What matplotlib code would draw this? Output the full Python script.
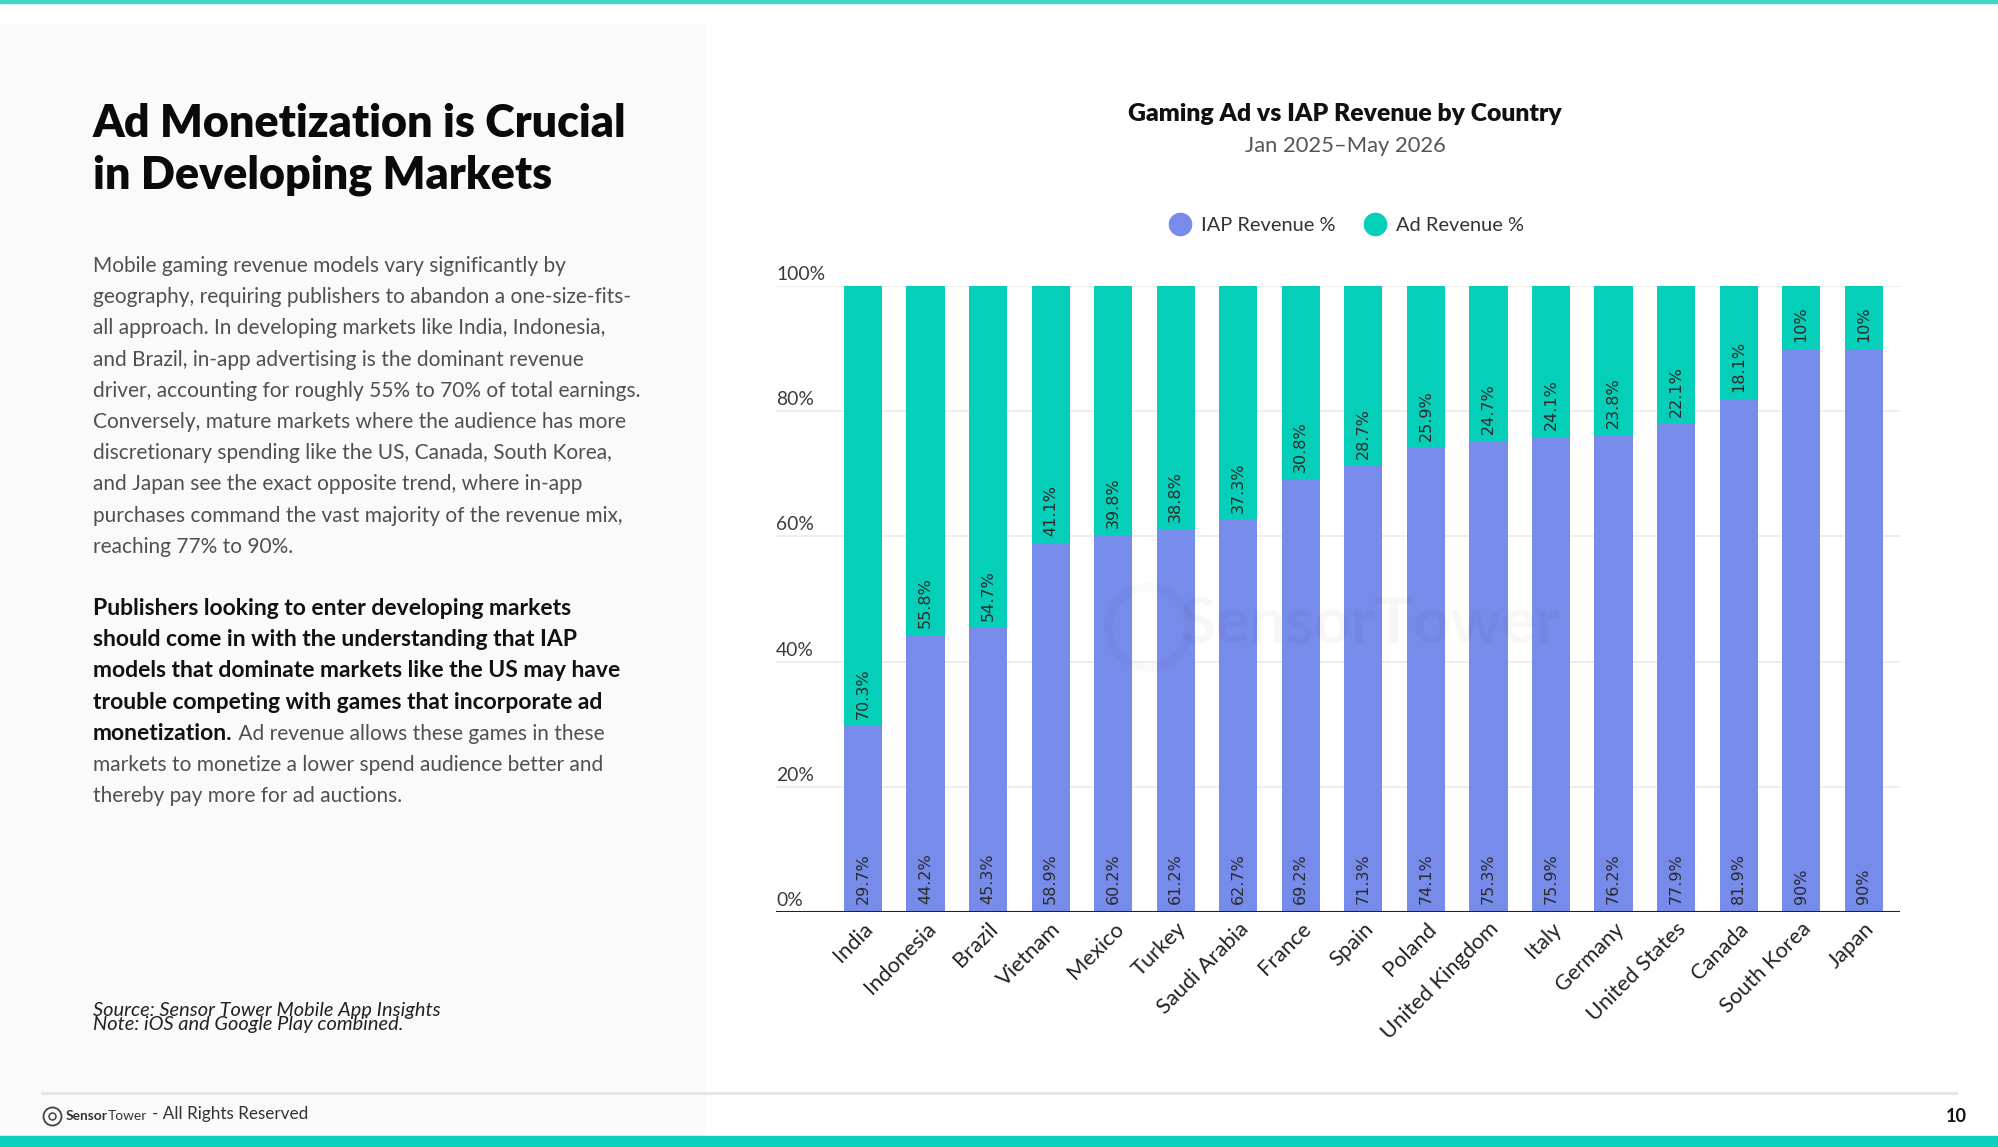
import matplotlib
matplotlib.use("Agg")
import matplotlib.pyplot as plt
from matplotlib.patches import Rectangle
from matplotlib.lines import Line2D
import matplotlib.transforms as mtransforms

plt.rcParams["font.family"] = ["Lato", "DejaVu Sans"]

# ---- data ----
countries = ["India", "Indonesia", "Brazil", "Vietnam", "Mexico", "Turkey",
             "Saudi Arabia", "France", "Spain", "Poland", "United Kingdom",
             "Italy", "Germany", "United States", "Canada", "South Korea", "Japan"]
iap_pct = [29.7, 44.2, 45.3, 58.9, 60.2, 61.2, 62.7, 69.2, 71.3, 74.1, 75.3,
           75.9, 76.2, 77.9, 81.9, 90, 90]
ad_pct = [70.3, 55.8, 54.7, 41.1, 39.8, 38.8, 37.3, 30.8, 28.7, 25.9, 24.7,
          24.1, 23.8, 22.1, 18.1, 10, 10]
y_ticks = [0, 20, 40, 60, 80, 100]

title_lines = ["Ad Monetization is Crucial", "in Developing Markets"]
body_lines = [
    "Mobile gaming revenue models vary significantly by",
    "geography, requiring publishers to abandon a one-size-fits-",
    "all approach. In developing markets like India, Indonesia,",
    "and Brazil, in-app advertising is the dominant revenue",
    "driver, accounting for roughly 55% to 70% of total earnings.",
    "Conversely, mature markets where the audience has more",
    "discretionary spending like the US, Canada, South Korea,",
    "and Japan see the exact opposite trend, where in-app",
    "purchases command the vast majority of the revenue mix,",
    "reaching 77% to 90%.",
]
bold_lines = [
    "Publishers looking to enter developing markets",
    "should come in with the understanding that IAP",
    "models that dominate markets like the US may have",
    "trouble competing with games that incorporate ad",
    "monetization.",
]
tail_lines = [
    " Ad revenue allows these games in these",
    "markets to monetize a lower spend audience better and",
    "thereby pay more for ad auctions.",
]

IAP_COLOR = "#778bea"
AD_COLOR = "#05cfb8"
TEAL = "#0bcfbc"
BODY = "#505050"

W, H = 1999, 1147
fig = plt.figure(figsize=(W / 100, H / 100), dpi=100)
fig.patch.set_facecolor("white")
renderer = fig.canvas.get_renderer()


def fx(px):
    return px / W


def fy(py):
    return 1 - py / H


def fit(s, target, **kw):
    t = fig.text(0, 0, s, fontsize=20, **kw)
    w = t.get_window_extent(renderer).width
    t.remove()
    return 20 * target / w


# page furniture
fig.add_artist(Rectangle((0, fy(1136)), fx(705), fy(24) - fy(1136),
                         transform=fig.transFigure, color="#fafafa", zorder=0))
fig.add_artist(Rectangle((0, fy(2.5)), 1, 2.5 / H, transform=fig.transFigure,
                         color="#3fd8c6", zorder=1))
fig.add_artist(Rectangle((0, 0), 1, 11 / H, transform=fig.transFigure,
                         color=TEAL, zorder=1))
fig.add_artist(Line2D([fx(42), fx(1956)], [fy(1093), fy(1093)],
                      transform=fig.transFigure, color="#e6e6e6", lw=2.2))

# left panel text
fs_title = fit(title_lines[0], 534, fontweight="heavy")
for k, line in enumerate(title_lines):
    fig.text(fx(93), fy(137 + 51 * k), line, fontsize=fs_title,
             fontweight="heavy", color="#0a0a0a", va="baseline")

fs_body = fit(body_lines[4], 547)
for k, line in enumerate(body_lines):
    fig.text(fx(93), fy(272 + 31.2 * k), line, fontsize=fs_body,
             color=BODY, va="baseline")

fs_bold = fit(bold_lines[2], 528, fontweight="bold")
for k, line in enumerate(bold_lines):
    t = fig.text(fx(93), fy(615 + 31.2 * k), line, fontsize=fs_bold,
                 fontweight="bold", color="#111111", va="baseline")
w_last = t.get_window_extent(renderer).width
for k, line in enumerate(tail_lines):
    x0 = 93 + w_last if k == 0 else 93
    fig.text(fx(x0), fy(615 + 31.2 * (k + 4)), line, fontsize=fs_body,
             color=BODY, va="baseline")

src = "Source: Sensor Tower Mobile App Insights"
note = "Note: iOS and Google Play combined."
fs_src = fit(src, 348, style="italic")
fig.text(fx(93), fy(1016), src, fontsize=fs_src, style="italic",
         color="#222222", va="baseline")
fig.text(fx(93), fy(1030), note, fontsize=fs_src, style="italic",
         color="#222222", va="baseline")

# footer
fig.add_artist(Line2D([fx(52)], [fy(1116)], marker="o", ms=13, mfc="none",
                      mec="#444444", mew=1.3, transform=fig.transFigure))
fig.add_artist(Line2D([fx(52)], [fy(1116)], marker="o", ms=5, mfc="none",
                      mec="#444444", mew=1.1, transform=fig.transFigure))
fs_foot = fit("- All Rights Reserved", 157)
tb = fig.text(fx(66), fy(1116), "Sensor", fontsize=fs_foot * 0.8,
              fontweight="bold", color="#333333", va="center")
wb = tb.get_window_extent(renderer).width
tb2 = fig.text(fx(66 + wb), fy(1116), "Tower", fontsize=fs_foot * 0.8,
               color="#333333", va="center")
wb2 = tb2.get_window_extent(renderer).width
fig.text(fx(66 + wb + wb2 + 5), fy(1114), "- All Rights Reserved",
         fontsize=fs_foot, color="#333333", va="center")
fig.text(fx(1967), fy(1116), "10", fontsize=13, fontweight="bold",
         color="#111111", ha="right", va="center")

# chart titles
fs_ct = fit("Gaming Ad vs IAP Revenue by Country", 435, fontweight="heavy")
fig.text(fx(1345), fy(121), "Gaming Ad vs IAP Revenue by Country",
         fontsize=fs_ct, fontweight="heavy", color="#111111",
         ha="center", va="baseline")
fs_sub = fit("Jan 2025\u2013May 2026", 201)
fig.text(fx(1345), fy(152), "Jan 2025\u2013May 2026", fontsize=fs_sub,
         color="#555555", ha="center", va="baseline")

# axes
ax_left, ax_right, ax_top, ax_bot = 776, 1900, 286, 912
ax = fig.add_axes([fx(ax_left), fy(ax_bot), fx(ax_right - ax_left),
                   (ax_bot - ax_top) / H])
ax.set_facecolor("none")
x = list(range(len(countries)))
ax.bar(x, iap_pct, width=0.61, color=IAP_COLOR, zorder=2,
       label="IAP Revenue %")
ax.bar(x, ad_pct, width=0.61, bottom=iap_pct, color=AD_COLOR, zorder=2,
       label="Ad Revenue %")
ax.set_xlim(-1.39, 16.58)
ax.set_ylim(0, 100)
ax.set_yticks(y_ticks)
ax.yaxis.grid(True, color="#ebebeb", lw=1.2, zorder=0)
ax.tick_params(axis="y", length=0, labelleft=False)
for s in ax.spines.values():
    s.set_visible(False)
ax.axhline(0, color="#222222", lw=2.2, zorder=4)

fs_y = fit("100%", 49)
trans_y = mtransforms.blended_transform_factory(ax.transAxes, ax.transData)
for v in y_ticks:
    ax.annotate(f"{v}%", xy=(0, v), xycoords=trans_y, xytext=(0, 4.3),
                textcoords="offset points", fontsize=fs_y,
                color="#3c3c3c", ha="left", va="baseline",
                annotation_clip=False)

fs_x = fit("United Kingdom", 157)
ax.set_xticks(x)
ax.set_xticklabels(countries, fontsize=fs_x, color="#222222")
ax.tick_params(axis="x", length=0, pad=5)
plt.setp(ax.get_xticklabels(), rotation=45, ha="right", va="top",
         rotation_mode="anchor")

fs_bar = fit("29.7%", 51, family="DejaVu Sans")
for i in x:
    ax.annotate(f"{iap_pct[i]:g}%", xy=(i, 0), xytext=(0, 5.5),
                textcoords="offset points", rotation=90, ha="center",
                va="bottom", fontsize=fs_bar, family="DejaVu Sans",
                color="#2a2a2a", zorder=5)
    ax.annotate(f"{ad_pct[i]:g}%", xy=(i, iap_pct[i]), xytext=(0, 5),
                textcoords="offset points", rotation=90, ha="center",
                va="bottom", fontsize=fs_bar, family="DejaVu Sans",
                color="#2a2a2a", zorder=5)

# legend
fs_leg = fit("IAP Revenue %", 135)
handles = [Line2D([], [], ls="", marker="o", ms=16, color=IAP_COLOR),
           Line2D([], [], ls="", marker="o", ms=16, color=AD_COLOR)]
fig.legend(handles, ["IAP Revenue %", "Ad Revenue %"], loc="center",
           bbox_to_anchor=(fx(1347), fy(225)), ncol=2, frameon=False,
           handletextpad=0.55, columnspacing=1.45, handlelength=1.0,
           prop={"size": fs_leg}, labelcolor="#333333")

# faint watermark
fig.text(fx(1370), fy(625), "SensorTower", fontsize=fit("SensorTower", 380,
         fontweight="bold"), fontweight="bold", color="#000000", alpha=0.03,
         ha="center", va="center", zorder=10)
fig.add_artist(Line2D([fx(1148)], [fy(627)], marker="o", ms=58, mfc="none",
                      mec="#000000", mew=6, alpha=0.025,
                      transform=fig.transFigure, zorder=10))

fig.savefig("out.png", dpi=100)
